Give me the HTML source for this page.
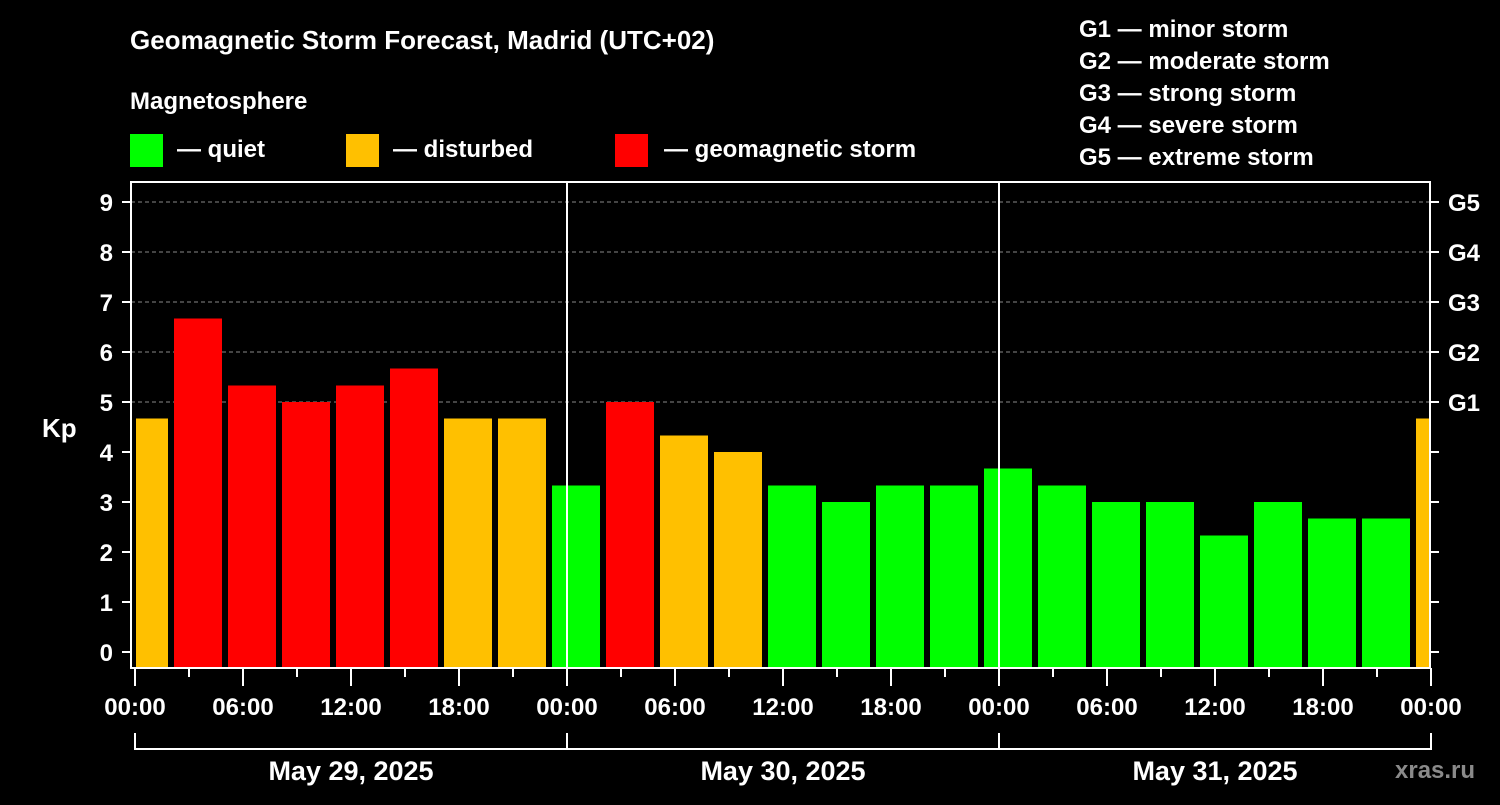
<!DOCTYPE html>
<html><head><meta charset="utf-8"><style>
body{margin:0;background:#000;width:1500px;height:800px;overflow:hidden}
svg text{font-family:"Liberation Sans",sans-serif;font-weight:bold;fill:#fff}
</style></head><body>
<svg id="c" width="1500" height="800">
<text x="130" y="49" font-size="26">Geomagnetic Storm Forecast, Madrid (UTC+02)</text>
<text x="130" y="109" font-size="24">Magnetosphere</text>
<g><rect x="130" y="134" width="33" height="33" fill="#00ff00"/><text x="177" y="157" font-size="24">— quiet</text></g>
<g><rect x="346" y="134" width="33" height="33" fill="#ffc000"/><text x="393" y="157" font-size="24">— disturbed</text></g>
<g><rect x="615" y="134" width="33" height="33" fill="#ff0000"/><text x="664" y="157" font-size="24">— geomagnetic storm</text></g>
<g font-size="24">
<text x="1079" y="37">G1 — minor storm</text><text x="1079" y="69">G2 — moderate storm</text><text x="1079" y="101">G3 — strong storm</text><text x="1079" y="133">G4 — severe storm</text><text x="1079" y="165">G5 — extreme storm</text></g>
<text x="42" y="437" font-size="26">Kp</text>
<text x="1395" y="778" font-size="24" fill="#888" style="fill:#8a8a8a">xras.ru</text>
<g id="plot"></g>
</svg>
<script>
const kpValues=[4.67,6.67,5.33,5,5.33,5.67,4.67,4.67,3.33,5,4.33,4,3.33,3,3.33,3.33,3.67,3.33,3,3,2.33,3,2.67,2.67,4.67];
const barStartHours=[-1,2,5,8,11,14,17,20,23,26,29,32,35,38,41,44,47,50,53,56,59,62,65,68,71];
const dayLabels=["May 29, 2025","May 30, 2025","May 31, 2025"];
const hourLabels=["00:00","06:00","12:00","18:00"];
const yTicks=[0,1,2,3,4,5,6,7,8,9];
const gLabels=["G1","G2","G3","G4","G5"];
const L=131,R=1430,T=182,B=668,X0=135,PXH=18;
const x=h=>X0+h*PXH, y=v=>652-v*50;
const NS="http://www.w3.org/2000/svg",g=document.getElementById('plot');
function mk(t,a){const e=document.createElementNS(NS,t);for(const k in a)e.setAttribute(k,a[k]);g.appendChild(e);return e;}
yTicks.forEach(v=>{
 if(v>=5){const l=mk('line',{x1:L,x2:R,y1:y(v),y2:y(v),stroke:'#888','stroke-dasharray':'4,3'});
 
 }
 mk('line',{x1:L-9,x2:L,y1:y(v),y2:y(v),stroke:'#fff','stroke-width':2});
 mk('line',{x1:R,x2:R+9,y1:y(v),y2:y(v),stroke:'#fff','stroke-width':2});
 const t=mk('text',{x:113,y:y(v)+9,'font-size':24,'text-anchor':'end'});t.textContent=v;
 
 
});
gLabels.forEach((s,i)=>{const t=mk('text',{x:1448,y:y(5+i)+9,'font-size':24});t.textContent=s;
 
 });
kpValues.forEach((v,i)=>{
 let x1=Math.max(x(barStartHours[i])+3,L+5),x2=Math.min(x(barStartHours[i]+3)-3,R);
 const c=v>=5?'#ff0000':v>=4?'#ffc000':'#00ff00';
 const r=mk('rect',{x:x1,y:y(v),width:x2-x1,height:B-y(v),fill:c});
 
 
});
[1,2].forEach(d=>mk('line',{x1:x(24*d),x2:x(24*d),y1:T,y2:B,stroke:'#fff','stroke-width':2}));
const f=mk('rect',{x:L,y:T,width:R-L,height:B-T,fill:'none',stroke:'#fff','stroke-width':2});


for(let h=0;h<=72;h+=3){
 const major=h%6==0;
 mk('line',{x1:x(h),x2:x(h),y1:B,y2:B+(major?18:9),stroke:'#fff','stroke-width':2});
 if(major){const t=mk('text',{x:x(h),y:715,'font-size':24,'text-anchor':'middle'});t.textContent=hourLabels[(h/6)%4];
 
 }
}
dayLabels.forEach((s,d)=>{
 mk('polyline',{points:`${x(24*d)},733 ${x(24*d)},749 ${x(24*d+24)},749 ${x(24*d+24)},733`,fill:'none',stroke:'#fff','stroke-width':2});
 const t=mk('text',{x:x(24*d+12),y:780,'font-size':27,'text-anchor':'middle'});t.textContent=s;
 
 
});
</script>
</body></html>
